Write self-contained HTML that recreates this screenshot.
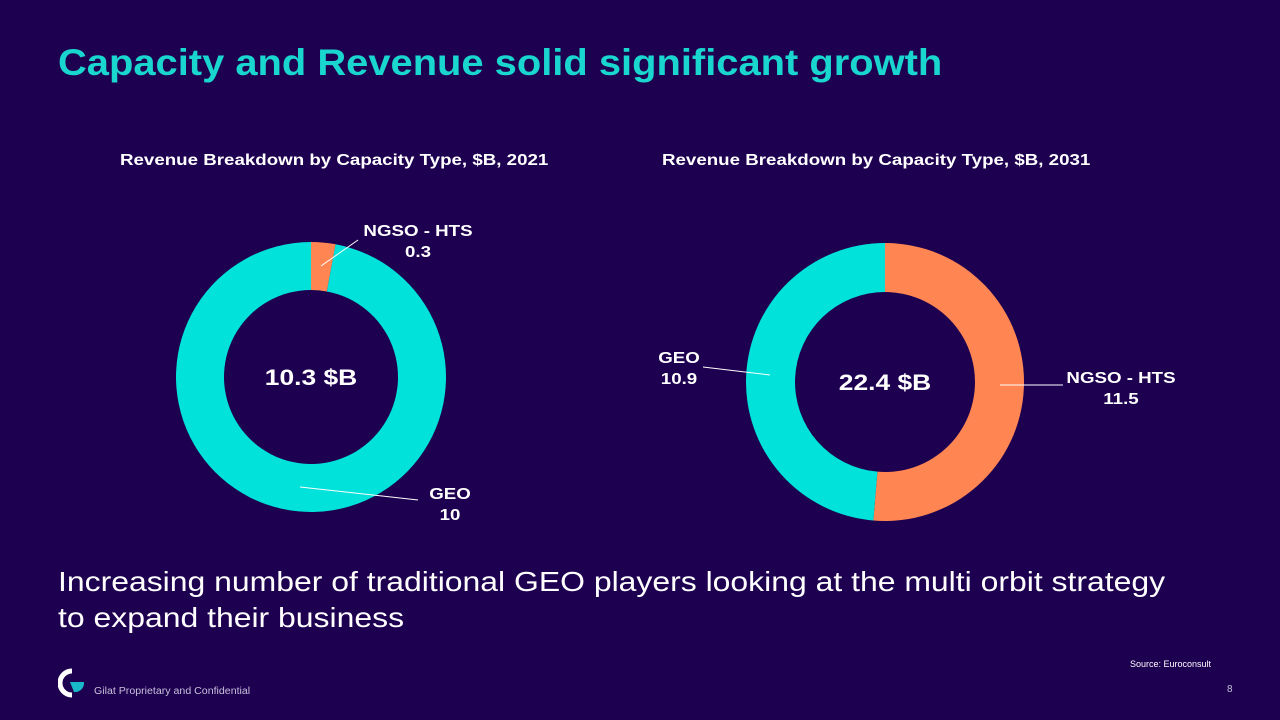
<!DOCTYPE html>
<html><head><meta charset="utf-8"><style>
body{margin:0;width:1280px;height:720px;background:#1e0050;overflow:hidden;font-family:"Liberation Sans",sans-serif;position:relative}
.t{position:absolute;color:#fff;white-space:nowrap;transform-origin:0 0}
</style></head><body>
<div class="t" style="left:58px;top:42px;font-size:37px;font-weight:bold;color:#19d6cf;transform:scaleX(1.078)">Capacity and Revenue solid significant growth</div>
<div class="t" style="left:120px;top:152px;font-size:16px;font-weight:bold;transform:scaleX(1.17)">Revenue Breakdown by Capacity Type, $B, 2021</div>
<div class="t" style="left:662px;top:152px;font-size:16px;font-weight:bold;transform:scaleX(1.17)">Revenue Breakdown by Capacity Type, $B, 2031</div>
<svg id="c" width="1280" height="720" style="position:absolute;left:0;top:0"></svg>
<div class="t" style="left:58px;top:564px;font-size:28px;line-height:36px;transform:scaleX(1.14)">Increasing number of traditional GEO players looking at the multi orbit strategy<br>to expand their business</div>
<div class="t" style="left:1130px;top:659px;font-size:9px">Source: Euroconsult</div>
<div class="t" style="left:94px;top:686px;font-size:10px;color:#c8c0dc;transform:scaleX(1.06)">Gilat Proprietary and Confidential</div>
<div class="t" style="left:1227px;top:684px;font-size:10px;color:#c8c0dc">8</div>
<svg width="30" height="30" style="position:absolute;left:58px;top:668px">
<path d="M14 3 A12 12 0 1 0 14 27" stroke="#fff" stroke-width="5" fill="none"/>
<path d="M12 14 L26 14 A9 9 0 0 1 16 24 Z" fill="#19b8c8"/></svg>
<script>
const cats2021=["NGSO - HTS","GEO"];
const vals2021=[0.3,10];
const cats2031=["NGSO - HTS","GEO"];
const vals2031=[11.5,10.9];
const colors=["#ff8652","#00e2da"];
const svg=document.getElementById('c');
const NS="http://www.w3.org/2000/svg";
function donut(vals,cats,cx,cy,R,r,total,pfx){
  const sum=vals.reduce((a,b)=>a+b,0);let a0=0;
  vals.forEach((v,i)=>{
    const a1=a0+v/sum*2*Math.PI;
    const p=(a,rr)=>[cx+rr*Math.sin(a),cy-rr*Math.cos(a)];
    const lg=(a1-a0)>Math.PI?1:0;
    const [x1,y1]=p(a0,R),[x2,y2]=p(a1,R),[x3,y3]=p(a1,r),[x4,y4]=p(a0,r);
    const path=document.createElementNS(NS,'path');
    path.setAttribute('d',`M${x1} ${y1}A${R} ${R} 0 ${lg} 1 ${x2} ${y2}L${x3} ${y3}A${r} ${r} 0 ${lg} 0 ${x4} ${y4}Z`);
    path.setAttribute('fill',colors[i]);
    
    
    svg.appendChild(path);
    a0=a1;
  });
  const t=document.createElementNS(NS,'text');
  t.setAttribute('transform',`translate(${cx},${cy+8}) scale(1.2,1)`);
  t.setAttribute('text-anchor','middle');
  t.setAttribute('fill','#fff');t.setAttribute('font-size','22');t.setAttribute('font-weight','bold');
  t.textContent=total;
  
  
  svg.appendChild(t);
}
function label(x,y,lines,lx1,ly1,lx2,ly2,name){
  const l=document.createElementNS(NS,'line');
  l.setAttribute('x1',lx1);l.setAttribute('y1',ly1);l.setAttribute('x2',lx2);l.setAttribute('y2',ly2);
  l.setAttribute('stroke','#fff');l.setAttribute('stroke-width','1');
  
  
  svg.appendChild(l);
  lines.forEach((s,k)=>{
    const t=document.createElementNS(NS,'text');
    t.setAttribute('transform',`translate(${x},${y+k*21}) scale(1.17,1)`);
    t.setAttribute('text-anchor','middle');
    t.setAttribute('fill','#fff');t.setAttribute('font-size','16');t.setAttribute('font-weight','bold');
    t.textContent=s;
    
    
    svg.appendChild(t);
  });
}
donut(vals2021,cats2021,311,377,135,87,"10.3 $B","chart-2021");
donut(vals2031,cats2031,885,382,139,90,"22.4 $B","chart-2031");
label(418,236,[cats2021[0],String(vals2021[0])],321,266,358,240,"label-2021-ngso");
label(450,499,[cats2021[1],String(vals2021[1])],300,487,418,500,"label-2021-geo");
label(679,363,[cats2031[1],String(vals2031[1])],703,367,770,375,"label-2031-geo");
label(1121,383,[cats2031[0],String(vals2031[0])],1000,385,1063,385,"label-2031-ngso");
</script>
</body></html>
